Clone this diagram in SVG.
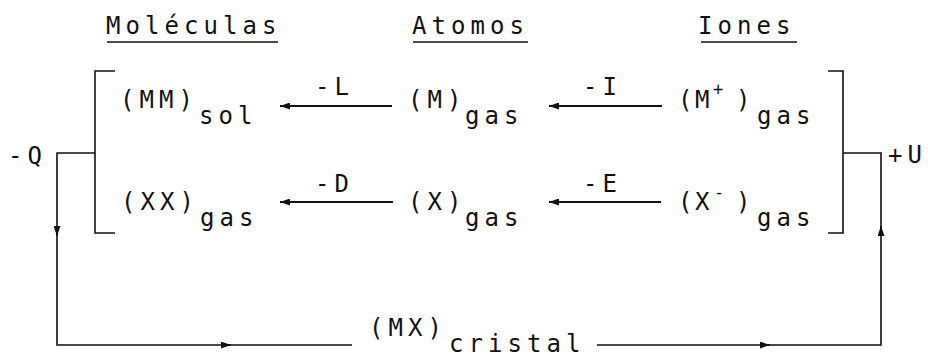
<svg xmlns="http://www.w3.org/2000/svg" width="928" height="358" viewBox="0 0 928 358">
<style>
text{font-family:"DejaVu Sans Mono","Liberation Mono",monospace;font-size:24px;letter-spacing:5.05px;fill:#111}
.sup{font-size:17px;letter-spacing:0}
.ns{letter-spacing:0}
.ln{stroke:#111;stroke-width:1.6;fill:none}
.ar{stroke:#111;stroke-width:2;fill:none}
</style>
<defs>
<marker id="ah" viewBox="0 0 10 7" refX="10" refY="3.5" markerWidth="10" markerHeight="7" markerUnits="userSpaceOnUse" orient="auto">
<path d="M0,0 L10,3.5 L0,7 z" fill="#111"/>
</marker>
</defs>
<rect width="928" height="358" fill="#fff"/>
<g id="headers">
<text x="106" y="34">Moléculas</text>
<text x="412" y="34">Atomos</text>
<text x="698" y="34">Iones</text>
<line class="ln" x1="107" y1="42" x2="278" y2="42"/>
<line class="ln" x1="413" y1="42" x2="528" y2="42"/>
<line class="ln" x1="701" y1="42" x2="797" y2="42"/>
</g>
<g id="n-mm"><text x="120" y="108">(MM)</text><text x="199" y="124">sol</text></g>
<g id="n-m"><text x="408" y="108">(M)</text><text x="465" y="124">gas</text></g>
<g id="n-mplus"><text class="ns" y="108"><tspan x="678">(</tspan><tspan x="695">M</tspan><tspan class="sup" x="713" y="95">+</tspan><tspan x="736" y="108">)</tspan></text><text x="757" y="124">gas</text></g>
<g id="n-xx"><text x="121" y="210">(XX)</text><text x="200" y="226">gas</text></g>
<g id="n-x"><text x="408" y="210">(X)</text><text x="465" y="226">gas</text></g>
<g id="n-xminus"><text class="ns" y="210"><tspan x="678">(</tspan><tspan x="695">X</tspan><tspan class="sup" x="714" y="198">-</tspan><tspan x="736" y="210">)</tspan></text><text x="757" y="226">gas</text></g>
<g id="n-mx"><text x="369" y="336">(MX)</text><text x="449" y="352">cristal</text></g>
<g id="brackets">
<path class="ln" d="M115,71 H95 V233 H115"/>
<path class="ln" d="M828,71 H843 V233 H828"/>
</g>
<g id="connectors">
<line class="ar" x1="392" y1="106" x2="280" y2="106" marker-end="url(#ah)"/>
<line class="ar" x1="662" y1="106" x2="549" y2="106" marker-end="url(#ah)"/>
<line class="ar" x1="393" y1="202" x2="280" y2="202" marker-end="url(#ah)"/>
<line class="ar" x1="661" y1="202" x2="549" y2="202" marker-end="url(#ah)"/>
<path class="ln" d="M95,153 H57 V236" marker-end="url(#ah)"/>
<path class="ln" d="M57,230 V345 H231" marker-end="url(#ah)"/>
<path class="ln" d="M225,345 H352"/>
<path class="ln" d="M597,345 H770" marker-end="url(#ah)"/>
<path class="ln" d="M765,345 H881 V226" marker-end="url(#ah)"/>
<path class="ln" d="M881,232 V153 H843"/>
</g>
<g id="labels">
<text x="315" y="95">-L</text>
<text x="583" y="95">-I</text>
<text x="315" y="192">-D</text>
<text x="583" y="192">-E</text>
<text x="8" y="164">-Q</text>
<text x="888" y="163">+U</text>
</g>
</svg>
